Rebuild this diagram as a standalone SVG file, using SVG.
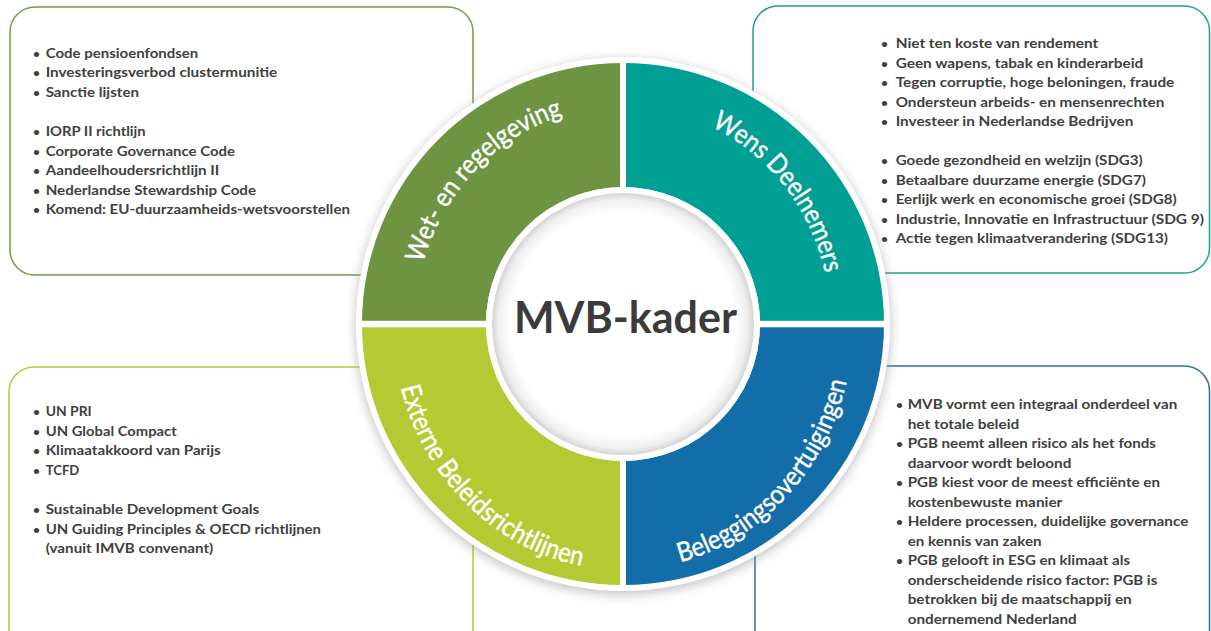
<svg xmlns="http://www.w3.org/2000/svg" width="1211" height="631" viewBox="0 0 1211 631">
<defs>
<style>
.box{fill:#fff;stroke-width:1.5}
.t{font-family:Lato,"Liberation Sans",sans-serif;font-weight:700;font-size:14px;fill:#404040}
.b{font-family:Lato,"Liberation Sans",sans-serif;font-weight:700;font-size:12px;fill:#404040}
.rl{font-family:Lato,"Liberation Sans",sans-serif;font-size:27px;fill:#fff;stroke:#fff;stroke-width:0.4}
.ctr{font-family:Lato,"Liberation Sans",sans-serif;font-weight:700;font-size:44px;fill:#3b3b3b}
.gap{fill:#fff}
</style>
<filter id="sh" x="-20%" y="-20%" width="140%" height="140%"><feGaussianBlur stdDeviation="6"/></filter>
<radialGradient id="ig" cx="0.5" cy="0.5" r="0.5">
<stop offset="0" stop-color="#fff"/><stop offset="0.86" stop-color="#fff"/><stop offset="0.95" stop-color="#efefef"/><stop offset="1" stop-color="#d4d4d4"/>
</radialGradient>
<path id="pTL" d="M 415,324 A 208 218 0 0 1 623,106"/>
<path id="pTR" d="M 623,106 A 208 218 0 0 1 831,324"/>
<path id="pBL" d="M 393,324 A 230 246 0 0 0 623,570"/>
<path id="pBR" d="M 623,570 A 230 246 0 0 0 853,324"/>
</defs>

<g id="box-wet">
<rect class="box" x="10" y="7" width="463" height="268" rx="25" stroke="#77994a"/>
<g class="b"><text x="33" y="57.5">•</text><text x="33" y="77">•</text><text x="33" y="96.5">•</text><text x="33" y="136">•</text><text x="33" y="155.5">•</text><text x="33" y="175">•</text><text x="33" y="194.5">•</text><text x="33" y="214">•</text></g>
<g class="t">
<text x="45.7" y="57.5" textLength="152.6" lengthAdjust="spacingAndGlyphs">Code pensioenfondsen</text>
<text x="45.7" y="77" textLength="231.6" lengthAdjust="spacingAndGlyphs">Investeringsverbod clustermunitie</text>
<text x="45.7" y="96.5" textLength="93.3" lengthAdjust="spacingAndGlyphs">Sanctie lijsten</text>
<text x="45.7" y="136" textLength="100" lengthAdjust="spacingAndGlyphs">IORP II richtlijn</text>
<text x="45.7" y="155.5" textLength="189.3" lengthAdjust="spacingAndGlyphs">Corporate Governance Code</text>
<text x="45.7" y="175" textLength="173.6" lengthAdjust="spacingAndGlyphs">Aandeelhoudersrichtlijn II</text>
<text x="45.7" y="194.5" textLength="210.3" lengthAdjust="spacingAndGlyphs">Nederlandse Stewardship Code</text>
<text x="45.7" y="214" textLength="304.3" lengthAdjust="spacingAndGlyphs">Komend: EU-duurzaamheids-wetsvoorstellen</text>
</g>
</g>

<g id="box-wens">
<rect class="box" x="753" y="6" width="456.5" height="267" rx="25" stroke="#1fa198"/>
<g class="b"><text x="881" y="48.3">•</text><text x="881" y="67.8">•</text><text x="881" y="87.3">•</text><text x="881" y="106.8">•</text><text x="881" y="126.3">•</text><text x="881" y="165.3">•</text><text x="881" y="184.8">•</text><text x="881" y="204.3">•</text><text x="881" y="223.8">•</text><text x="881" y="243.3">•</text></g>
<g class="t">
<text x="895.7" y="48.3" textLength="202.6" lengthAdjust="spacingAndGlyphs">Niet ten koste van rendement</text>
<text x="895.7" y="67.8" textLength="247.6" lengthAdjust="spacingAndGlyphs">Geen wapens, tabak en kinderarbeid</text>
<text x="895.7" y="87.3" textLength="278.6" lengthAdjust="spacingAndGlyphs">Tegen corruptie, hoge beloningen, fraude</text>
<text x="895.7" y="106.8" textLength="268.6" lengthAdjust="spacingAndGlyphs">Ondersteun arbeids- en mensenrechten</text>
<text x="895.7" y="126.3" textLength="237.6" lengthAdjust="spacingAndGlyphs">Investeer in Nederlandse Bedrijven</text>
<text x="895.7" y="165.3" textLength="247" lengthAdjust="spacingAndGlyphs">Goede gezondheid en welzijn (SDG3)</text>
<text x="895.7" y="184.8" textLength="250.3" lengthAdjust="spacingAndGlyphs">Betaalbare duurzame energie (SDG7)</text>
<text x="895.7" y="204.3" textLength="281" lengthAdjust="spacingAndGlyphs">Eerlijk werk en economische groei (SDG8)</text>
<text x="895.7" y="223.8" textLength="308.3" lengthAdjust="spacingAndGlyphs">Industrie, Innovatie en Infrastructuur (SDG 9)</text>
<text x="895.7" y="243.3" textLength="272.3" lengthAdjust="spacingAndGlyphs">Actie tegen klimaatverandering (SDG13)</text>
</g>
</g>

<g id="box-extern">
<rect class="box" x="9" y="367" width="464" height="300" rx="25" stroke="#b5c93a"/>
<g class="b"><text x="33" y="416">•</text><text x="33" y="435.5">•</text><text x="33" y="455">•</text><text x="33" y="474.5">•</text><text x="33" y="514">•</text><text x="33" y="533.5">•</text></g>
<g class="t">
<text x="45.7" y="416" textLength="46" lengthAdjust="spacingAndGlyphs">UN PRI</text>
<text x="45.7" y="435.5" textLength="131" lengthAdjust="spacingAndGlyphs">UN Global Compact</text>
<text x="45.7" y="455" textLength="175" lengthAdjust="spacingAndGlyphs">Klimaatakkoord van Parijs</text>
<text x="45.7" y="474.5" textLength="33.6" lengthAdjust="spacingAndGlyphs">TCFD</text>
<text x="45.7" y="514" textLength="213.6" lengthAdjust="spacingAndGlyphs">Sustainable Development Goals</text>
<text x="45.7" y="533.5" textLength="275.3" lengthAdjust="spacingAndGlyphs">UN Guiding Principles &amp; OECD richtlijnen</text>
<text x="45.7" y="553" textLength="167.6" lengthAdjust="spacingAndGlyphs">(vanuit IMVB convenant)</text>
</g>
</g>

<g id="box-beleggings">
<rect class="box" x="755" y="366" width="454.5" height="300" rx="25" stroke="#2a6fa8"/>
<g class="b"><text x="896" y="409.3">•</text><text x="896" y="448.3">•</text><text x="896" y="487.3">•</text><text x="896" y="526.3">•</text><text x="896" y="565.3">•</text></g>
<g class="t">
<text x="907.7" y="409.3" textLength="269.6" lengthAdjust="spacingAndGlyphs">MVB vormt een integraal onderdeel van</text>
<text x="907.7" y="428.8" textLength="111.6" lengthAdjust="spacingAndGlyphs">het totale beleid</text>
<text x="907.7" y="448.3" textLength="248.3" lengthAdjust="spacingAndGlyphs">PGB neemt alleen risico als het fonds</text>
<text x="907.7" y="467.8" textLength="163.6" lengthAdjust="spacingAndGlyphs">daarvoor wordt beloond</text>
<text x="907.7" y="487.3" textLength="252.3" lengthAdjust="spacingAndGlyphs">PGB kiest voor de meest efficiënte en</text>
<text x="907.7" y="506.8" textLength="154.6" lengthAdjust="spacingAndGlyphs">kostenbewuste manier</text>
<text x="907.7" y="526.3" textLength="280.6" lengthAdjust="spacingAndGlyphs">Heldere processen, duidelijke governance</text>
<text x="907.7" y="545.8" textLength="134" lengthAdjust="spacingAndGlyphs">en kennis van zaken</text>
<text x="907.7" y="565.3" textLength="222.3" lengthAdjust="spacingAndGlyphs">PGB gelooft in ESG en klimaat als</text>
<text x="907.7" y="584.8" textLength="249.6" lengthAdjust="spacingAndGlyphs">onderscheidende risico factor: PGB is</text>
<text x="907.7" y="604.3" textLength="224" lengthAdjust="spacingAndGlyphs">betrokken bij de maatschappij en</text>
<text x="907.7" y="623.8" textLength="169" lengthAdjust="spacingAndGlyphs">ondernemend Nederland</text>
</g>
</g>

<g id="ring-base">
<circle cx="623" cy="327" r="267" fill="#8a8a8a" opacity="0.55" filter="url(#sh)"/>
<circle cx="623" cy="324" r="267" fill="#fff"/>
</g>

<g id="seg-wet">
<path d="M 362,324 A 261 261 0 0 1 623,63 L 623,187 A 137 137 0 0 0 486,324 Z" fill="#6f9441"/>
<text class="rl"><textPath href="#pTL" startOffset="50%" text-anchor="middle" textLength="212" lengthAdjust="spacingAndGlyphs">Wet- en regelgeving</textPath></text>
</g>
<g id="seg-wens">
<path d="M 623,63 A 261 261 0 0 1 884,324 L 760,324 A 137 137 0 0 0 623,187 Z" fill="#009f93"/>
<text class="rl"><textPath href="#pTR" startOffset="56%" text-anchor="middle" textLength="192" lengthAdjust="spacingAndGlyphs">Wens Deelnemers</textPath></text>
</g>
<g id="seg-extern">
<path d="M 362,324 A 261 261 0 0 0 623,585 L 623,461 A 137 137 0 0 1 486,324 Z" fill="#b5c933"/>
<text class="rl"><textPath href="#pBL" startOffset="53%" text-anchor="middle" textLength="268" lengthAdjust="spacingAndGlyphs">Externe Beleidsrichtlijnen</textPath></text>
</g>
<g id="seg-beleggings">
<path d="M 623,585 A 261 261 0 0 0 884,324 L 760,324 A 137 137 0 0 1 623,461 Z" fill="#136da9"/>
<text class="rl"><textPath href="#pBR" startOffset="50%" text-anchor="middle" textLength="258" lengthAdjust="spacingAndGlyphs">Beleggingsovertuigingen</textPath></text>
</g>

<g id="gaps">
<rect class="gap" x="620" y="58" width="6" height="532"/>
<rect class="gap" x="357" y="320.8" width="532" height="6.5"/>
</g>

<g id="center">
<circle cx="623" cy="324" r="137" fill="#fff"/>
<circle cx="623" cy="324" r="131" fill="url(#ig)"/>
<text class="ctr" x="625.5" y="333" text-anchor="middle" textLength="223" lengthAdjust="spacingAndGlyphs">MVB-kader</text>
</g>
</svg>
